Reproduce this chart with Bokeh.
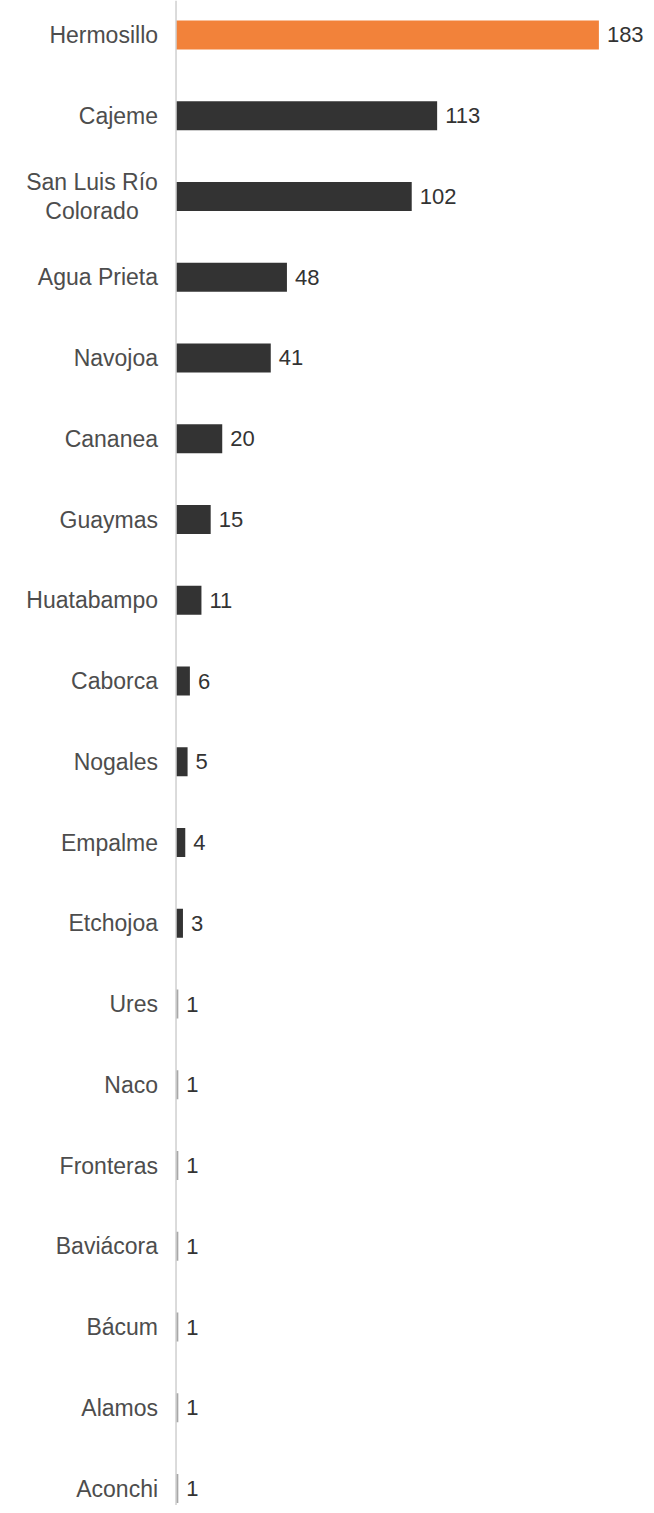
from bokeh.plotting import figure
from bokeh.models import ColumnDataSource, Range1d, Span
from bokeh.core.properties import value
from bokeh.embed import file_html
from bokeh.resources import INLINE

municipios = ["Hermosillo", "Cajeme", "San Luis Río\nColorado", "Agua Prieta", "Navojoa",
              "Cananea", "Guaymas", "Huatabampo", "Caborca", "Nogales", "Empalme",
              "Etchojoa", "Ures", "Naco", "Fronteras", "Baviácora", "Bácum", "Alamos", "Aconchi"]
casos = [183, 113, 102, 48, 41, 20, 15, 11, 6, 5, 4, 3, 1, 1, 1, 1, 1, 1, 1]

colors = []
for i, v in enumerate(casos):
    if i == 0:
        colors.append("#F2823A")
    elif v <= 1:
        colors.append("#A8A8A8")
    else:
        colors.append("#333333")

pos = list(range(len(municipios)))
src = ColumnDataSource(dict(y=pos, v=casos, color=colors,
                            vlabel=[str(v) for v in casos]))

single = [i for i, n in enumerate(municipios) if "\n" not in n]
multi = [i for i, n in enumerate(municipios) if "\n" in n]
src_single = ColumnDataSource(dict(y=[pos[i] for i in single], name=[municipios[i] for i in single],
                                   zero=[0] * len(single)))
src_multi = ColumnDataSource(dict(y=[pos[i] for i in multi], name=[municipios[i] for i in multi],
                                  zero=[0] * len(multi)))

p = figure(width=646, height=1505, output_backend="svg", toolbar_location=None,
           x_range=Range1d(-75.96, 203.6), y_range=Range1d(18.21, -0.427),
           min_border=0, outline_line_color=None)
p.axis.visible = False
p.grid.visible = False

p.add_layout(Span(location=0, dimension="height", line_color="#CFCFCF", line_width=1.5))

p.hbar(y="y", left=0, right="v", height=0.359, fill_color="color", line_color=None, source=src)

FONT = value("Liberation Sans")
p.text(x="v", y="y", text="vlabel", x_offset=8, text_align="left", text_baseline="middle",
       text_font=FONT, text_font_size="22px", text_color="#333333", source=src)

p.text(x="zero", y="y", text="name", x_offset=-18, text_align="right", text_baseline="middle",
       text_font=FONT, text_font_size="23px", text_color="#4D4D4D", source=src_single)

p.text(x="zero", y="y", text="name", x_offset=-84, text_align="center", text_baseline="middle",
       text_font=FONT, text_font_size="23px", text_color="#4D4D4D",
       text_line_height=1.1, source=src_multi)

open("out.html", "w").write(file_html(p, INLINE))
